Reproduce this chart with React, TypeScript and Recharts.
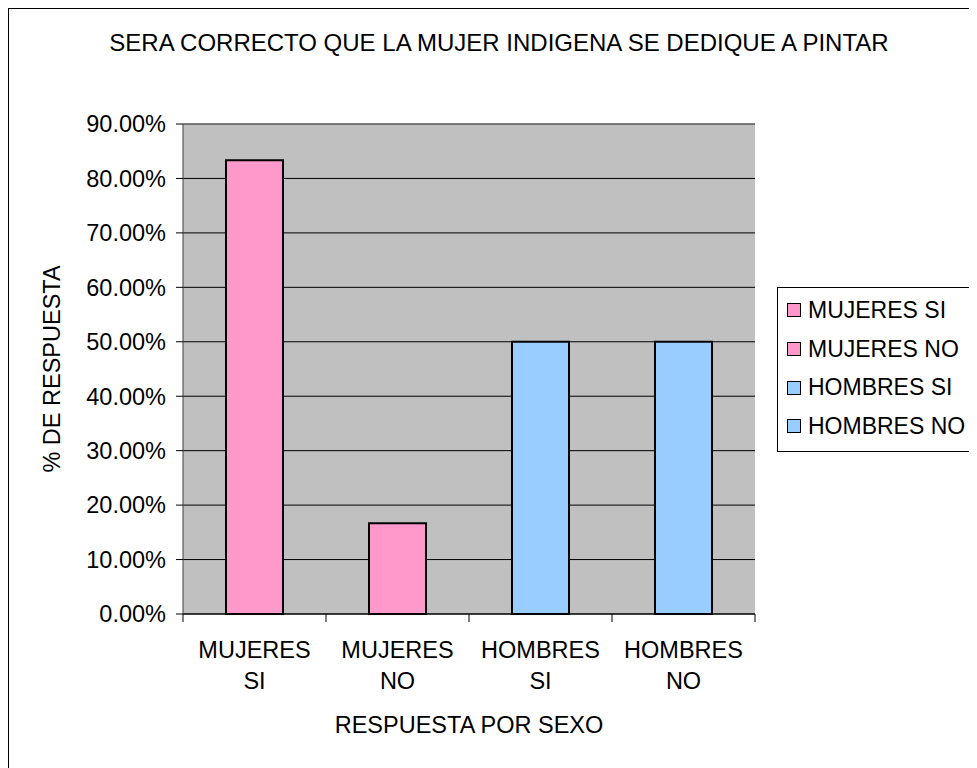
import React from 'react';
import { BarChart, Bar, XAxis, YAxis, CartesianGrid, Cell, ReferenceLine } from 'recharts';

// Survey results, % of answers per group
const categories = ['MUJERES SI', 'MUJERES NO', 'HOMBRES SI', 'HOMBRES NO'];
const values = [83.33, 16.67, 50, 50];
const colors = ['#FF99CC', '#FF99CC', '#99CCFF', '#99CCFF'];
const yTicks = [0, 10, 20, 30, 40, 50, 60, 70, 80, 90];

const title = 'SERA CORRECTO QUE LA MUJER INDIGENA SE DEDIQUE A PINTAR';
const xTitle = 'RESPUESTA POR SEXO';
const yTitle = '% DE RESPUESTA';

const data = categories.map((name, i) => ({ name, value: values[i] }));

const FONT = "'Liberation Sans', Arial, sans-serif";
const FS = 23.5;

const CategoryTick = (props: any) => {
  const { x, y, payload, index, visibleTicksCount } = props;
  const half = payload.offset ?? 0;
  const lines = String(payload.value).split(' ');
  return (
    <g>
      <line x1={x - half} x2={x - half} y1={y - 8} y2={y} stroke="#000" />
      {index === visibleTicksCount - 1 && (
        <line x1={x + half} x2={x + half} y1={y - 8} y2={y} stroke="#000" />
      )}
      <text x={x} y={y} textAnchor="middle" fontSize={FS} fontFamily={FONT} fill="#000">
        <tspan x={x} dy={36}>{lines[0]}</tspan>
        <tspan x={x} dy={31}>{lines[1]}</tspan>
      </text>
    </g>
  );
};

const LegendBox = () => (
  <div
    style={{
      position: 'absolute',
      left: 768,
      top: 278,
      width: 195,
      boxSizing: 'border-box',
      border: '1px solid #000',
      background: '#fff',
      padding: '3px 0 5px 0',
      fontFamily: FONT,
      fontSize: 23,
      color: '#000',
    }}
  >
    {categories.map((c, i) => (
      <div key={c} style={{ display: 'flex', alignItems: 'center', height: 38.7, whiteSpace: 'nowrap' }}>
        <span
          style={{
            display: 'inline-block',
            width: 12,
            height: 12,
            border: '1.5px solid #000',
            background: colors[i],
            marginLeft: 9,
            marginRight: 7,
          }}
        />
        {c}
      </div>
    ))}
  </div>
);

export default function App() {
  return (
    <div
      style={{
        position: 'relative',
        width: 968,
        height: 770,
        borderLeft: '1px solid #000',
        borderTop: '1px solid #000',
        background: '#fff',
        fontFamily: FONT,
      }}
    >
      <div
        style={{
          position: 'absolute',
          left: 0,
          top: 23,
          width: 980,
          textAlign: 'center',
          fontSize: 24,
          lineHeight: '22px',
          color: '#000',
        }}
      >
        {title}
      </div>
      <BarChart
        width={968}
        height={752}
        data={data}
        margin={{ top: 115, right: 222, left: 74, bottom: 47 }}
        style={{ position: 'absolute', left: 0, top: 0 }}
      >
        <CartesianGrid vertical={false} stroke="#000" fill="#C0C0C0" fillOpacity={1} />
        <XAxis
          dataKey="name"
          height={100}
          interval={0}
          tickLine={false}
          tickSize={8}
          tickMargin={0}
          axisLine={{ stroke: '#000' }}
          tick={<CategoryTick />}
          label={{ value: xTitle, position: 'insideBottom', offset: -19, fontSize: FS, fontFamily: FONT, fill: '#000' }}
        />
        <YAxis
          domain={[0, 90]}
          ticks={yTicks}
          width={100}
          tickSize={7}
          tickMargin={10}
          tickFormatter={(v: number) => `${v.toFixed(2)}%`}
          tick={{ fontSize: FS, fontFamily: FONT, fill: '#000' }}
          tickLine={{ stroke: '#000' }}
          axisLine={{ stroke: '#404040' }}
          label={{
            value: yTitle,
            angle: -90,
            position: 'insideLeft',
            offset: -31,
            fontSize: FS,
            fontFamily: FONT,
            fill: '#000',
            style: { textAnchor: 'middle' },
          }}
        />
        <YAxis
          yAxisId="right"
          orientation="right"
          domain={[0, 90]}
          width={0}
          tick={false}
          tickLine={false}
          axisLine={{ stroke: '#808080' }}
        />
        <ReferenceLine y={90} stroke="#808080" />
        <Bar dataKey="value" barSize={57} stroke="#000" strokeWidth={2} isAnimationActive={false}>
          {data.map((d, i) => (
            <Cell key={d.name} fill={colors[i]} />
          ))}
        </Bar>
      </BarChart>
      <LegendBox />
    </div>
  );
}
